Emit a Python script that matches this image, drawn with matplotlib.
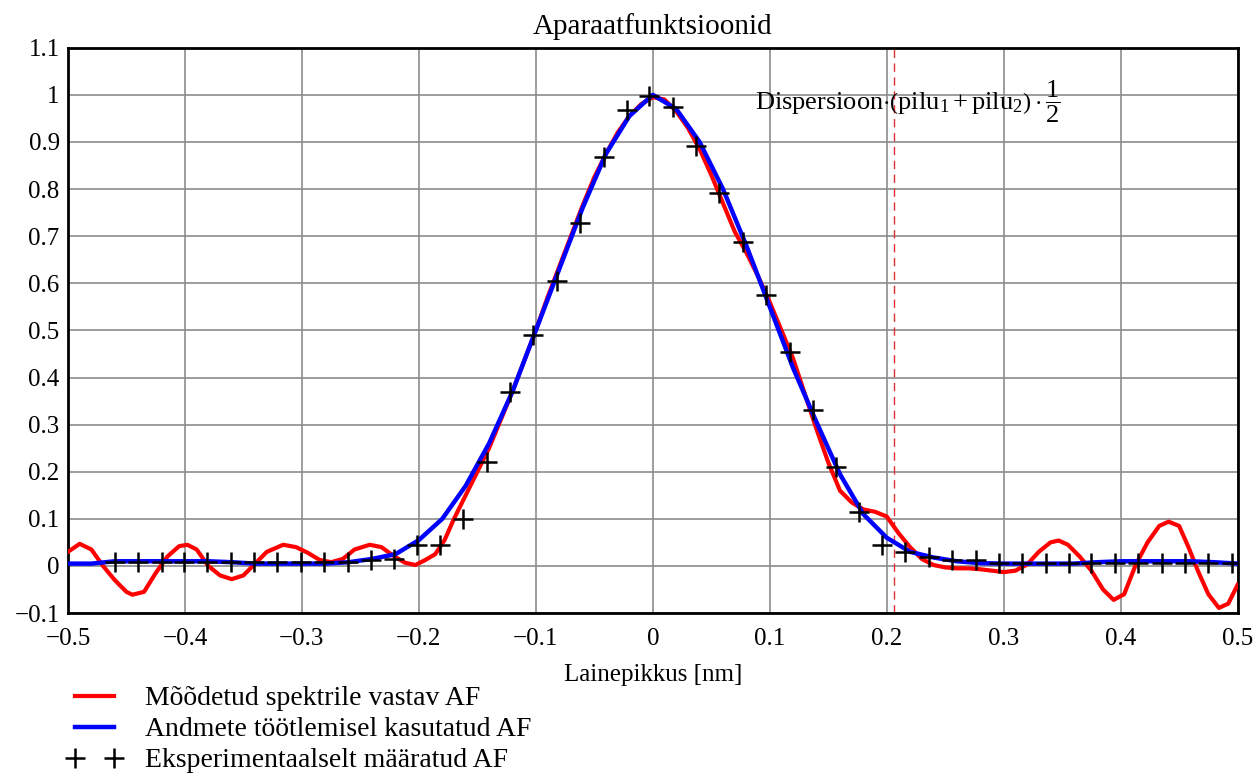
import matplotlib
matplotlib.use("Agg")
import matplotlib.pyplot as plt

plt.rcParams["font.family"] = ["Liberation Serif", "DejaVu Serif"]
plt.rcParams["mathtext.fontset"] = "custom"
plt.rcParams["mathtext.rm"] = "Liberation Serif"
plt.rcParams["mathtext.it"] = "Liberation Serif:italic"

# -----data-----

# measured AF (red)
red_x = [-0.500, -0.490, -0.480, -0.470, -0.460, -0.450, -0.445, -0.435, -0.425, -0.415,
         -0.405, -0.398, -0.390, -0.380, -0.370, -0.360, -0.350, -0.340, -0.330, -0.316,
         -0.305, -0.295, -0.285, -0.275, -0.265, -0.255, -0.242, -0.232, -0.222, -0.212,
         -0.203, -0.195, -0.186, -0.178, -0.170, -0.160, -0.150, -0.140, -0.130, -0.120,
         -0.110, -0.100, -0.090, -0.080, -0.070, -0.060, -0.050, -0.040, -0.030, -0.020,
         -0.010, 0.000, 0.010, 0.020, 0.030, 0.040, 0.050, 0.060, 0.070, 0.080,
         0.090, 0.100, 0.110, 0.120, 0.130, 0.140, 0.150, 0.160, 0.170, 0.180,
         0.190, 0.200, 0.210, 0.220, 0.230, 0.240, 0.250, 0.260, 0.270, 0.280,
         0.290, 0.300, 0.310, 0.320, 0.330, 0.340, 0.347, 0.355, 0.365, 0.375,
         0.385, 0.394, 0.403, 0.413, 0.423, 0.433, 0.441, 0.450, 0.458, 0.466,
         0.475, 0.484, 0.492, 0.500]
red_y = [0.030, 0.047, 0.035, 0.000, -0.030, -0.055, -0.061, -0.055, -0.015, 0.020,
         0.042, 0.045, 0.035, 0.000, -0.020, -0.028, -0.020, 0.005, 0.030, 0.045,
         0.040, 0.028, 0.013, 0.008, 0.015, 0.035, 0.045, 0.040, 0.022, 0.007,
         0.002, 0.012, 0.025, 0.055, 0.100, 0.150, 0.200, 0.250, 0.310, 0.370,
         0.435, 0.500, 0.570, 0.635, 0.700, 0.765, 0.825, 0.875, 0.920, 0.955,
         0.980, 0.995, 0.990, 0.965, 0.930, 0.885, 0.830, 0.770, 0.710, 0.665,
         0.615, 0.560, 0.500, 0.440, 0.365, 0.290, 0.220, 0.160, 0.135, 0.120,
         0.115, 0.105, 0.070, 0.040, 0.015, 0.002, -0.003, -0.005, -0.005, -0.007,
         -0.010, -0.013, -0.010, 0.003, 0.030, 0.050, 0.054, 0.045, 0.020, -0.010,
         -0.050, -0.072, -0.060, 0.003, 0.050, 0.085, 0.094, 0.085, 0.040, -0.010,
         -0.060, -0.089, -0.080, -0.040]

# AF used in data processing (blue)
blue_x = [-0.50, -0.48, -0.46, -0.44, -0.42, -0.40, -0.38, -0.36, -0.34, -0.32,
          -0.30, -0.28, -0.26, -0.24, -0.22, -0.20, -0.18, -0.16, -0.14, -0.12,
          -0.10, -0.08, -0.06, -0.04, -0.02, 0.00, 0.02, 0.04, 0.06, 0.08,
          0.10, 0.12, 0.14, 0.16, 0.18, 0.20, 0.22, 0.24, 0.26, 0.28,
          0.30, 0.32, 0.34, 0.36, 0.38, 0.40, 0.42, 0.44, 0.46, 0.48, 0.50]
blue_y = [0.005, 0.005, 0.010, 0.010, 0.010, 0.010, 0.010, 0.008, 0.005, 0.005,
          0.005, 0.005, 0.008, 0.015, 0.025, 0.055, 0.100, 0.170, 0.260, 0.370,
          0.500, 0.630, 0.760, 0.875, 0.955, 1.000, 0.970, 0.900, 0.800, 0.680,
          0.550, 0.420, 0.305, 0.195, 0.110, 0.060, 0.030, 0.018, 0.010, 0.006,
          0.005, 0.005, 0.005, 0.005, 0.008, 0.010, 0.010, 0.010, 0.010, 0.008, 0.005]

# experimental AF (crosses)
exp_x = [-0.460, -0.440, -0.420, -0.401, -0.381, -0.361, -0.341, -0.321, -0.301, -0.281,
         -0.261, -0.241, -0.221, -0.202, -0.182, -0.162, -0.142, -0.122, -0.102, -0.082,
         -0.062, -0.042, -0.022, -0.003, 0.017, 0.037, 0.057, 0.077, 0.097, 0.117,
         0.137, 0.157, 0.176, 0.196, 0.216, 0.236, 0.256, 0.276, 0.296, 0.316,
         0.336, 0.356, 0.375, 0.395, 0.415, 0.435, 0.455, 0.475, 0.495]
exp_y = [0.008, 0.008, 0.008, 0.008, 0.008, 0.008, 0.008, 0.008, 0.008, 0.008,
         0.008, 0.012, 0.014, 0.045, 0.045, 0.100, 0.220, 0.370, 0.490, 0.605,
         0.728, 0.868, 0.968, 0.998, 0.975, 0.891, 0.791, 0.687, 0.575, 0.455,
         0.330, 0.210, 0.115, 0.044, 0.030, 0.018, 0.012, 0.012, 0.007, 0.007,
         0.007, 0.007, 0.007, 0.007, 0.007, 0.007, 0.007, 0.007, 0.007]

marker_x = 0.206

x_ticks = [-0.5, -0.4, -0.3, -0.2, -0.1, 0, 0.1, 0.2, 0.3, 0.4, 0.5]
x_labels = ["\u22120.5", "\u22120.4", "\u22120.3", "\u22120.2", "\u22120.1", "0",
            "0.1", "0.2", "0.3", "0.4", "0.5"]
y_ticks = [-0.1, 0, 0.1, 0.2, 0.3, 0.4, 0.5, 0.6, 0.7, 0.8, 0.9, 1.0, 1.1]
y_labels = ["\u22120.1", "0", "0.1", "0.2", "0.3", "0.4", "0.5", "0.6",
            "0.7", "0.8", "0.9", "1", "1.1"]

# -----plot-----

fig = plt.figure(figsize=(12.59, 7.82), dpi=100)
ax = fig.add_axes([0.054, 0.216, 0.929, 0.723])

ax.grid(True, color="#8c8c8c", linewidth=1.2)
ax.set_axisbelow(True)

ax.plot(red_x, red_y, color="#ff0000", linewidth=3, label="Mõõdetud spektrile vastav AF", zorder=3)
ax.plot(blue_x, blue_y, color="#0000ff", linewidth=3.2, label="Andmete töötlemisel kasutatud AF", zorder=4)
ax.plot(exp_x, exp_y, linestyle="none", marker="+", markersize=14.5, markeredgewidth=1.8,
        color="black", label="Eksperimentaalselt määratud AF", zorder=5)

ax.axvline(marker_x, color="#e03030", linewidth=1, linestyle=(0, (6, 4)), zorder=2)
ax.text(0.087, 0.985,
        r"Dispersioon$\cdot\left(\mathrm{pilu}_{1}+\mathrm{pilu}_{2}\right)\cdot\dfrac{1}{2}$",
        fontsize=19, va="center", ha="left", zorder=6)

ax.set_xlim(-0.5, 0.5)
ax.set_ylim(-0.1, 1.1)
ax.set_xticks(x_ticks)
ax.set_xticklabels(x_labels)
ax.set_yticks(y_ticks)
ax.set_yticklabels(y_labels)
ax.tick_params(length=0, labelsize=18, pad=6)
ax.tick_params(axis="x", pad=11)
for s in ax.spines.values():
    s.set_linewidth(2)

ax.set_title("Aparaatfunktsioonid", fontsize=21, pad=10)
ax.set_xlabel("Lainepikkus [nm]", fontsize=18, labelpad=10)

fig.legend(loc="upper left", bbox_to_anchor=(0.053, 0.123), frameon=False, fontsize=20,
           numpoints=2, handlelength=2.0, handletextpad=0.8, labelspacing=0.2,
           borderaxespad=0, borderpad=0)

fig.savefig("out.png", dpi=100)
